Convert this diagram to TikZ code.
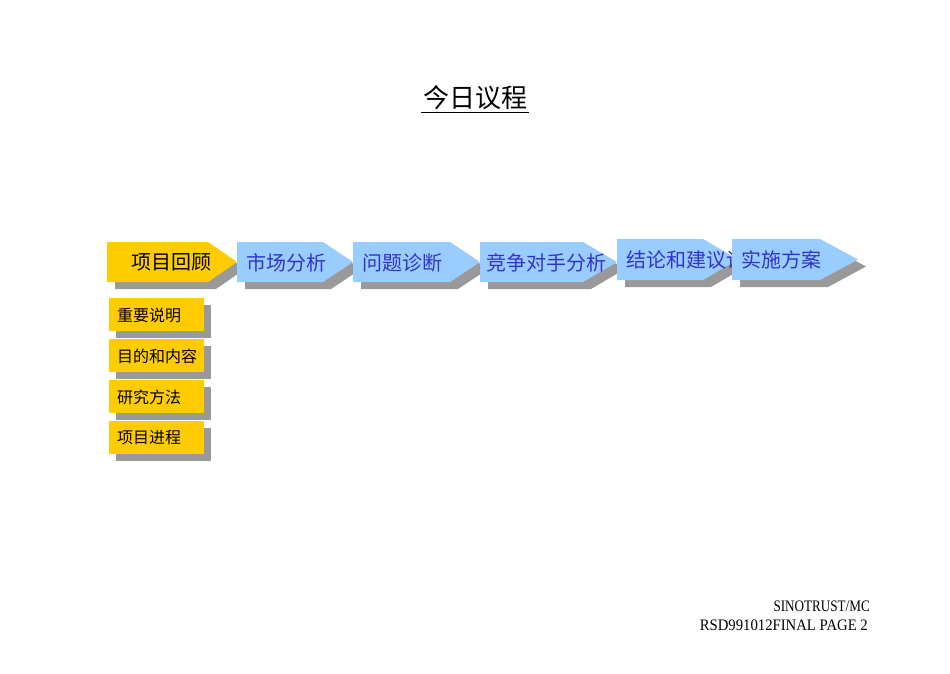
\documentclass[tikz,border=0pt]{standalone}
\usepackage{fontspec}
\setmainfont{Liberation Serif}
\newfontfamily\cjk{Noto Sans CJK SC}
\newfontfamily\footfont[FakeStretch=0.82]{Liberation Serif}
\newfontfamily\footfontb[FakeStretch=0.92]{Liberation Serif}
\definecolor{ygold}{RGB}{255,204,0}
\definecolor{lblue}{RGB}{153,204,255}
\definecolor{shadowgray}{RGB}{153,153,153}
\definecolor{txtblue}{RGB}{51,51,204}
\tikzset{
  shade/.style={fill=shadowgray, draw=none},
  ybox/.style={fill=ygold, draw=none},
  bbox/.style={fill=lblue, draw=none},
  steptext/.style={font=\cjk\fontsize{20}{24}\selectfont, anchor=west, inner sep=0pt, text=txtblue},
  ytext/.style={font=\cjk\fontsize{20}{24}\selectfont, anchor=west, inner sep=0pt, text=black},
  subtext/.style={font=\cjk\fontsize{16}{19}\selectfont, anchor=west, inner sep=0pt, text=black},
  foot/.style={anchor=base east, inner sep=0pt}
}
\begin{document}
\begin{tikzpicture}[x=1pt,y=-1pt]
\useasboundingbox[fill=white] (0,0) rectangle (950,673);
% title
\node[font=\cjk\fontsize{26}{30}\selectfont, inner sep=0pt] (title) at (475,98) {今日议程};
\draw[line width=1.1pt] (421,112.5) -- (529,112.5);
% shadows first
\foreach \l/\c/\t/\tt/\b in {107/208/237/242/282, 237/323/353/242/282, 353/450/480/242/282, 480/583/617/242/282, 617/703/738/239/280, 732/820/858/239/280}{
  \fill[shade] (\l+8,\tt+7) -- (\c+8,\tt+7) -- (\t+8,{(\tt+\b)/2+7}) -- (\c+8,\b+7) -- (\l+8,\b+7) -- cycle;
}
% arrow 1 (yellow)
\fill[ybox] (107,242) -- (208,242) -- (237,262) -- (208,282) -- (107,282) -- cycle;
\node[ytext] (s1) at (131,262.5) {项目回顾};
% arrow 2
\fill[bbox] (237,242) -- (323,242) -- (353,262) -- (323,282) -- (237,282) -- cycle;
\node[steptext] (s2) at (246,262.5) {市场分析};
% arrow 3
\fill[bbox] (353,242) -- (450,242) -- (480,262) -- (450,282) -- (353,282) -- cycle;
\node[steptext] (s3) at (362,262.5) {问题诊断};
% arrow 4
\fill[bbox] (480,242) -- (583,242) -- (617,262) -- (583,282) -- (480,282) -- cycle;
\node[steptext] (s4) at (486,262.5) {竞争对手分析};
% arrow 5
\fill[bbox] (617,239) -- (703,239) -- (738,259.5) -- (703,280) -- (617,280) -- cycle;
\node[steptext] (s5) at (626,260) {结论和建议};
\begin{scope}
  \clip (700,230) rectangle (732,290);
  \node[steptext] (s5b) at (s5.east) {讨};
\end{scope}
% arrow 6
\fill[bbox] (732,239) -- (820,239) -- (858,259.5) -- (820,280) -- (732,280) -- cycle;
\node[steptext] (s6) at (741,260) {实施方案};
% sub boxes
\foreach \n/\y/\txt in {1/298/重要说明, 2/339/目的和内容, 3/380/研究方法, 4/421/项目进程}{
  \fill[shade] (116,\y+7) rectangle (211,\y+40);
  \fill[ybox] (109,\y) rectangle (204,\y+33);
  \node[subtext] (sub\n) at (117,\y+17) {\txt};
}
% footer
\node[foot, font=\footfont\fontsize{16}{19}\selectfont] (f1) at (870,611) {SINOTRUST/MC};
\node[foot, font=\footfontb\fontsize{16}{19}\selectfont] (f2) at (868,630) {RSD991012FINAL PAGE 2};
\end{tikzpicture}
\end{document}
